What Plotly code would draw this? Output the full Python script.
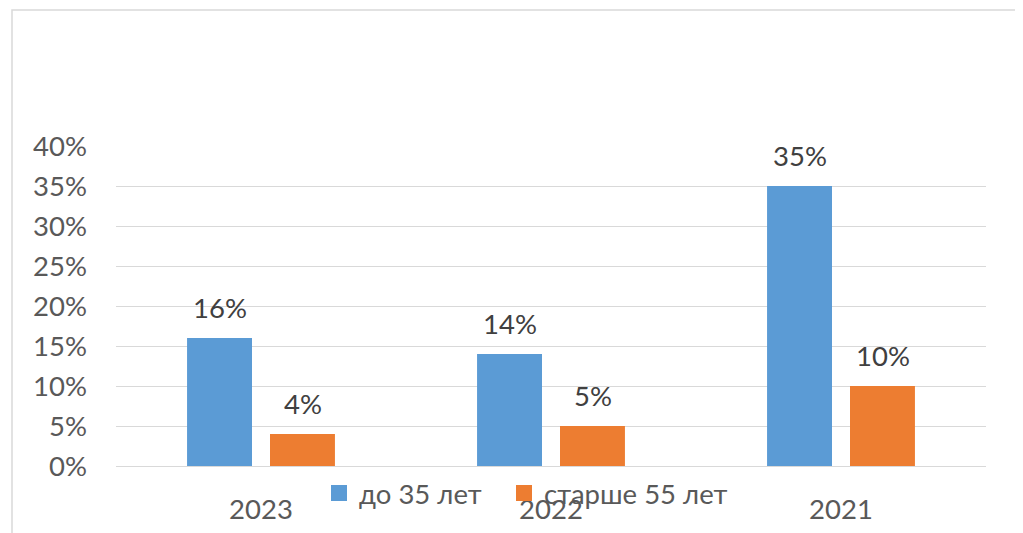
import plotly.graph_objects as go

categories = ["2023", "2022", "2021"]
series_names = ["до 35 лет", "старше 55 лет"]
young = [0.16, 0.14, 0.35]
old = [0.04, 0.05, 0.10]
colors = ["#5B9BD5", "#ED7D31"]
y_ticks = [0, 0.05, 0.10, 0.15, 0.20, 0.25, 0.30, 0.35, 0.40]

FONT = "Lato"
FS = 27.5

# page body has 8px margin -> figure is drawn at (8, 8)
OFF = 8
W, H = 1023 - OFF, 533 - OFF
L, T = 116 - OFF, 146 - OFF
R = W - (986 - OFF)
B = H - (466 - OFF)
pw, ph = W - L - R, H - T - B

fig = go.Figure()
for name, vals, col in zip(series_names, [young, old], colors):
    fig.add_trace(go.Bar(x=categories, y=vals, name=name, marker_color=col,
                         marker_line_width=0, showlegend=False))
# legend entries with larger square swatches, one legend each for exact placement
legend_ids = ["legend", "legend2"]
legend_x_px = [319, 504]
for name, col, lid in zip(series_names, colors, legend_ids):
    fig.add_trace(go.Scatter(x=[None], y=[None], mode="markers", name=name, legend=lid,
                             marker=dict(symbol="square", size=17, color=col)))

# data labels (x given as category index)
offsets = [-41.5, 41.5]
for vals, off in zip([young, old], offsets):
    for i, v in enumerate(vals):
        fig.add_annotation(x=i, y=v, xref="x", yref="y", text=f"{round(v*100)}%",
                           showarrow=False, xshift=off, yshift=12, yanchor="bottom",
                           font=dict(family=FONT, size=FS, color="#404040"))

fig.add_shape(type="rect", xref="paper", yref="paper",
              x0=(12 - OFF - L) / pw, x1=(W + 10 - L) / pw,
              y0=-(H + 10 - (H - B)) / ph, y1=(H - B - (10 - OFF)) / ph,
              line=dict(color="#D9D9D9", width=1.5), fillcolor="rgba(0,0,0,0)", layer="below")

legend_common = dict(orientation="h", xanchor="left",
                     y=(H - B - (493 - OFF)) / ph, yanchor="middle",
                     font=dict(family=FONT, size=FS, color="#595959"),
                     bgcolor="rgba(0,0,0,0)")
fig.update_layout(
    width=W, height=H,
    margin=dict(l=L, r=R, t=T, b=B, autoexpand=False),
    paper_bgcolor="white", plot_bgcolor="white",
    barmode="group", bargap=0.428, bargroupgap=0.217,
    showlegend=True,
    legend=dict(x=(legend_x_px[0] - OFF - L) / pw, **legend_common),
    legend2=dict(x=(legend_x_px[1] - OFF - L) / pw, **legend_common),
    font=dict(family=FONT, size=FS, color="#595959"),
)
fig.update_yaxes(range=[0, 0.40], tickvals=y_ticks, tickformat=".0%",
                 showgrid=True, gridcolor="#D9D9D9", gridwidth=1.3,
                 zeroline=True, zerolinecolor="#D9D9D9", zerolinewidth=1.3,
                 showline=False, ticks="", ticklabelstandoff=28, automargin=False,
                 tickfont=dict(family=FONT, size=FS, color="#595959"))
fig.update_xaxes(type="category", range=[-0.5, len(categories) - 0.5],
                 showgrid=False, showline=False, ticks="",
                 ticklabelstandoff=24, automargin=False,
                 tickfont=dict(family=FONT, size=FS, color="#595959"))

fig.write_html("out.html")
